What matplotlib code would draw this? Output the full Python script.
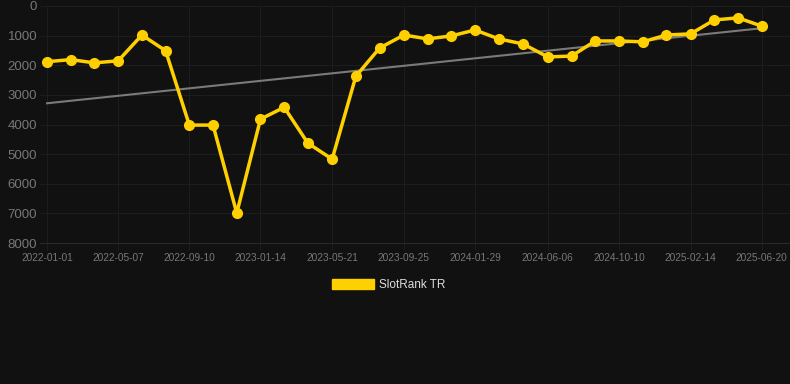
import numpy as np
import pandas as pd
import matplotlib
matplotlib.use('Agg')
import matplotlib.pyplot as plt
import matplotlib.dates as mdates
from matplotlib.patches import Patch

plt.rcParams['font.family'] = ['Liberation Sans', 'DejaVu Sans']

# data (rank, lower is better)
dates = pd.to_datetime([
    '2022-01-01', '2022-02-12', '2022-03-26', '2022-05-07', '2022-06-18',
    '2022-07-30', '2022-09-10', '2022-10-22', '2022-12-03', '2023-01-14',
    '2023-02-25', '2023-04-08', '2023-05-21', '2023-07-02', '2023-08-13',
    '2023-09-25', '2023-11-06', '2023-12-18', '2024-01-29', '2024-03-11',
    '2024-04-23', '2024-06-06', '2024-07-18', '2024-08-29', '2024-10-10',
    '2024-11-21', '2025-01-02', '2025-02-14', '2025-03-28', '2025-05-09',
    '2025-06-20',
])
ranks = [1880, 1810, 1920, 1850, 980, 1510, 4020, 4020, 6990, 3820,
         3420, 4630, 5170, 2370, 1420, 980, 1110, 1010, 810, 1110,
         1280, 1720, 1690, 1180, 1180, 1210, 980, 940, 470, 400, 680]
tick_labels = ['2022-01-01', '2022-05-07', '2022-09-10', '2023-01-14',
               '2023-05-21', '2023-09-25', '2024-01-29', '2024-06-06',
               '2024-10-10', '2025-02-14', '2025-06-20']
y_ticks = [0, 1000, 2000, 3000, 4000, 5000, 6000, 7000, 8000]

bg = '#111111'
gold = '#FFD000'
grid = '#1d1d1d'

fig = plt.figure(figsize=(7.9, 3.84), dpi=100, facecolor=bg)
ax = fig.add_axes([40 / 790, 1 - 243 / 384, 750 / 790, 237 / 384])
ax.set_facecolor(bg)

x = mdates.date2num(dates)
# linear trend
k, b = np.polyfit(x, ranks, 1)
ax.plot([x[0], x[-1]], [k * x[0] + b, k * x[-1] + b], color='#7a7a7a', lw=1.5, zorder=2)

ax.plot(x, ranks, color=gold, lw=2.5, marker='o', markersize=7, zorder=3)

ax.set_ylim(8000, 0)
ax.set_yticks(y_ticks)
ax.set_yticklabels([str(v) for v in y_ticks])
tick_x = mdates.date2num(pd.to_datetime(tick_labels))
ax.set_xticks(tick_x)
ax.set_xticklabels(tick_labels)
ax.set_xlim(x[0] - 12.5, x[-1] + 50)

ax.grid(True, color=grid, lw=0.8)
ax.tick_params(axis='y', colors='#777777', labelsize=9.5, length=0, pad=2)
ax.tick_params(axis='x', colors='#777777', labelsize=7.3, length=5, pad=2)
ax.tick_params(axis='x', color=grid)
for s in ax.spines.values():
    s.set_visible(False)
ax.spines['bottom'].set_visible(True)
ax.spines['bottom'].set_color('#2a2a2a')

fig.legend(handles=[Patch(color=gold, label='SlotRank TR')], loc='center',
           bbox_to_anchor=(0.492, 1 - 285 / 384), frameon=False,
           labelcolor='#dddddd', fontsize=8.5, handlelength=3.5, handleheight=0.9,
           handletextpad=0.4)

fig.savefig('out.png', dpi=100, facecolor=bg)
